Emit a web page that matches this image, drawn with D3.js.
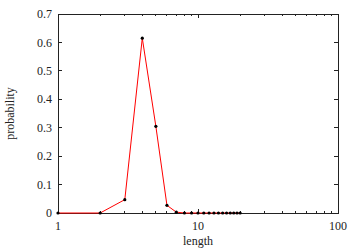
<!DOCTYPE html>
<html>
<head>
<meta charset="utf-8">
<script src="https://cdn.jsdelivr.net/npm/d3@7"></script>
<style>
  body { margin: 0; background: #fff; }
  text { font-family: "Liberation Serif", "Times New Roman", serif; fill: #222; }
</style>
</head>
<body>
<svg id="chart"></svg>
<script>
// DATA

const lengths = [1, 2, 3, 4, 5, 6, 7, 8, 9, 10, 11, 12, 13, 14, 15, 16, 17, 18, 19, 20];
const probs = [0, 0, 0.047, 0.615, 0.305, 0.027, 0.003, 0, 0, 0, 0, 0, 0, 0, 0, 0, 0, 0, 0, 0];

const xTicks = [1, 10, 100];
const yTicks = [0, 0.1, 0.2, 0.3, 0.4, 0.5, 0.6, 0.7];

const width = 360;
const height = 252;
const margin = { top: 14, right: 22, bottom: 39, left: 58 };

const svg = d3.select("#chart")
  .attr("width", width)
  .attr("height", height);

const x = d3.scaleLog()
  .domain([1, 100])
  .range([margin.left, width - margin.right]);

const y = d3.scaleLinear()
  .domain([0, 0.7])
  .range([height - margin.bottom, margin.top]);

// minor ticks for log axis
const minor = [];
[1, 10].forEach(d => {
  for (let k = 2; k <= 9; k++) minor.push(d * k);
});

const axisG = svg.append("g")
  .attr("stroke", "#222")
  .attr("stroke-width", 1)
  .attr("shape-rendering", "crispEdges");

// frame
axisG.append("rect")
  .attr("x", x(1))
  .attr("y", y(0.7))
  .attr("width", x(100) - x(1))
  .attr("height", y(0) - y(0.7))
  .attr("fill", "none");

// x ticks (bottom + mirrored top)
xTicks.forEach(t => {
  axisG.append("line")
    .attr("x1", x(t)).attr("x2", x(t))
    .attr("y1", y(0)).attr("y2", y(0) - 4);
  axisG.append("line")
    .attr("x1", x(t)).attr("x2", x(t))
    .attr("y1", y(0.7)).attr("y2", y(0.7) + 4);
});

minor.forEach(t => {
  axisG.append("line")
    .attr("x1", x(t)).attr("x2", x(t))
    .attr("y1", y(0)).attr("y2", y(0) - 2);
  axisG.append("line")
    .attr("x1", x(t)).attr("x2", x(t))
    .attr("y1", y(0.7)).attr("y2", y(0.7) + 2);
});

// y ticks (left + mirrored right)
yTicks.forEach(t => {
  axisG.append("line")
    .attr("x1", x(1)).attr("x2", x(1) + 4)
    .attr("y1", y(t)).attr("y2", y(t));
  axisG.append("line")
    .attr("x1", x(100)).attr("x2", x(100) - 4)
    .attr("y1", y(t)).attr("y2", y(t));
});

// TICK LABELS

svg.append("g")
  .selectAll("text")
  .data(yTicks)
  .enter()
  .append("text")
  .attr("x", x(1) - 6)
  .attr("y", d => y(d))
  .attr("dy", "0.35em")
  .attr("text-anchor", "end")
  .attr("font-size", "12px")
  .text(d => d === 0 ? "0" : d3.format(".1f")(d));

svg.append("g")
  .selectAll("text")
  .data(xTicks)
  .enter()
  .append("text")
  .attr("x", d => x(d))
  .attr("y", y(0) + 17)
  .attr("text-anchor", "middle")
  .attr("font-size", "12px")
  .text(d => d);

// AXIS TITLES

svg.append("text")
  .attr("x", (x(1) + x(100)) / 2)
  .attr("y", 244.5)
  .attr("text-anchor", "middle")
  .attr("font-size", "12px")
  .text("length");

svg.append("text")
  .attr("transform", `translate(13.5, ${(y(0) + y(0.7)) / 2}) rotate(-90)`)
  .attr("text-anchor", "middle")
  .attr("font-size", "12px")
  .text("probability");

// LINE + POINTS

const pts = lengths.map((l, i) => ({ l: l, p: probs[i] }));

const line = d3.line()
  .x(d => x(d.l))
  .y(d => y(d.p));

svg.append("path")
  .datum(pts)
  .attr("d", line)
  .attr("fill", "none")
  .attr("stroke", "#ff0000")
  .attr("stroke-width", 1);

svg.append("g")
  .selectAll("circle")
  .data(pts)
  .enter()
  .append("circle")
  .attr("cx", d => x(d.l))
  .attr("cy", d => y(d.p))
  .attr("r", 1.6)
  .attr("fill", "#000");
</script>
</body>
</html>
